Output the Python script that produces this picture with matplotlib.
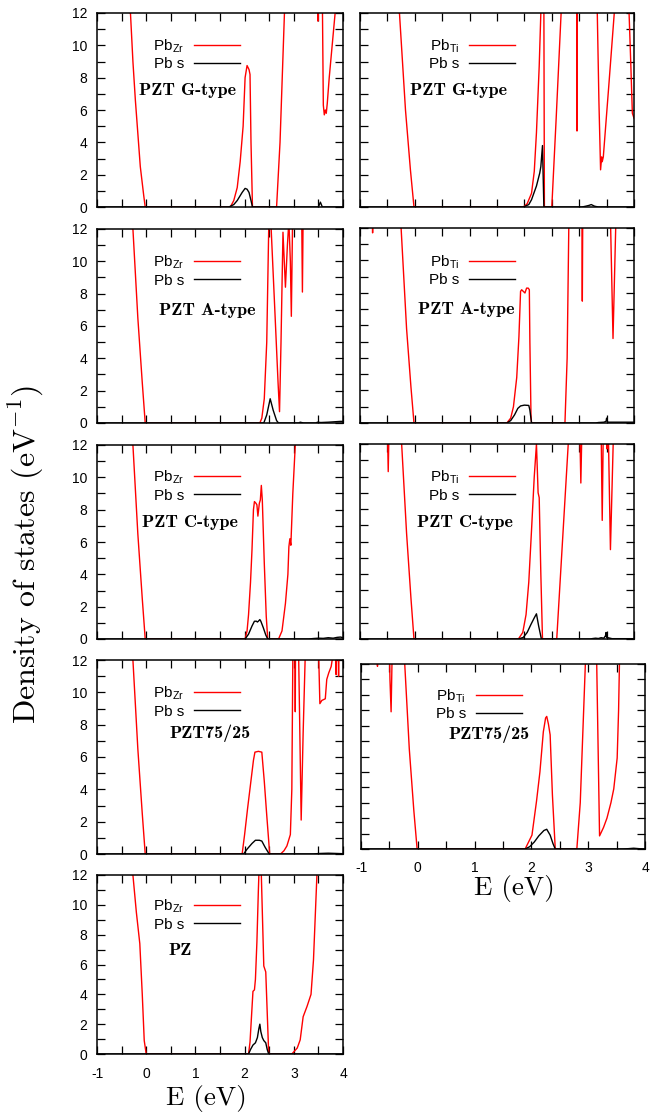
import matplotlib
matplotlib.use('Agg')
import matplotlib.pyplot as plt
from matplotlib.ticker import MultipleLocator, NullFormatter

plt.rcParams['font.family'] = ['Liberation Sans', 'DejaVu Sans']
plt.rcParams['mathtext.fontset'] = 'cm'
plt.rcParams['axes.unicode_minus'] = False

# ---------------- data (E in eV, DOS in 1/eV; values > 12 run off the top) -------------
# PZT G-type, Pb_Zr
zrG_E = [-1.0, -0.32, -0.27, -0.22, -0.12, -0.05, -0.02, 1.71, 1.78, 1.85, 1.91, 1.97, 2.01, 2.05,
         2.09, 2.11, 2.13, 2.16, 2.65, 2.72, 2.81, 2.85, 3.48, 3.49, 3.50, 3.58, 3.60, 3.62, 3.64,
         3.66, 3.68, 3.72, 3.78, 3.84, 3.88, 4.0]
zrG_V = [13, 12, 9.0, 6.6, 2.5, 0.7, 0, 0, 0.4, 1.2, 2.8, 5.0, 8.0, 8.75,
         8.5, 8.2, 4.0, 0, 0, 4.0, 12, 13, 13, 11.5, 13, 13, 6.3, 5.7, 6.0,
         5.8, 6.4, 8.0, 10.0, 12, 13, 13]
szG_E = [-1.0, 1.68, 1.78, 1.85, 1.95, 2.01, 2.05, 2.09, 2.13, 2.16, 3.50, 3.54, 3.58, 4.0]
szG_V = [0, 0, 0.15, 0.4, 0.9, 1.15, 1.1, 0.9, 0.4, 0, 0, 0.3, 0, 0]

# PZT G-type, Pb_Ti
tiG_E = [-1.0, -0.28, -0.17, -0.08, -0.015, 1.98, 2.05, 2.13, 2.18, 2.22, 2.27, 2.30, 2.32, 2.355,
         2.365, 2.50, 2.58, 2.67, 2.70, 2.955, 2.96, 2.965, 3.33, 3.36, 3.39, 3.41, 3.42, 3.44,
         3.54, 3.64, 3.66, 3.90, 3.94, 3.97, 4.0]
tiG_V = [13, 12, 6.0, 2.3, 0, 0, 0.2, 0.85, 2.2, 4.6, 8.7, 12, 13, 13,
         0, 0, 5.5, 12, 13, 13, 4.7, 13, 12, 6.5, 2.3, 3.1, 2.8, 3.1,
         7.5, 12, 13, 13, 9.0, 5.8, 5.5]
stG_E = [-1.0, 1.98, 2.08, 2.13, 2.22, 2.28, 2.30, 2.33, 2.355, 3.05, 3.12, 3.18, 3.22, 3.28, 3.35, 4.0]
stG_V = [0, 0, 0.15, 0.45, 1.3, 2.1, 2.5, 3.8, 0, 0, 0.05, 0.1, 0.15, 0.05, 0, 0]

# PZT A-type, Pb_Zr
zrA_E = [-1.0, -0.27, -0.17, -0.08, -0.02, 2.31, 2.35, 2.40, 2.45, 2.49, 2.51, 2.54, 2.62, 2.68,
         2.71, 2.74, 2.78, 2.83, 2.87, 2.90, 2.93, 2.95, 2.975, 3.0, 3.16, 3.175, 3.19, 4.0]
zrA_V = [13, 12, 6.5, 2.5, 0, 0, 0.3, 1.5, 5.0, 12, 13, 12, 6.6, 2.5,
         0.7, 5.0, 11.8, 8.4, 11.0, 12.5, 10.0, 6.6, 12.5, 13, 13, 8.1, 13, 13]
szA_E = [-1.0, 2.39, 2.45, 2.52, 2.58, 2.65, 2.69, 3.10, 3.13, 3.20, 3.45, 3.48, 3.55, 3.70, 3.85, 3.95, 4.0]
szA_V = [0, 0, 0.5, 1.5, 0.8, 0.15, 0, 0, 0.05, 0, 0, 0.05, 0.03, 0.05, 0.08, 0.1, 0.1]

# PZT A-type, Pb_Ti
tiA_E = [-1.0, -0.775, -0.77, -0.765, -0.25, -0.15, -0.07, -0.015, 1.68, 1.75, 1.80, 1.86, 1.90,
         1.93, 1.95, 1.98, 2.01, 2.04, 2.07, 2.09, 2.10, 2.12, 2.13, 2.74, 2.78, 2.81, 2.83, 3.05,
         3.057, 3.065, 3.574, 3.617, 3.666, 3.69, 4.0]
tiA_V = [13, 13, 11.7, 13, 12, 5.8, 2.2, 0, 0, 0.3, 1.0, 2.8, 5.3,
         8.1, 8.2, 8.1, 8.0, 8.3, 8.3, 8.2, 5.0, 0.5, 0, 0, 4.0, 12, 13, 13,
         7.5, 13, 12, 5.2, 12, 13, 13]
stA_E = [-1.0, 1.68, 1.75, 1.82, 1.88, 1.93, 2.00, 2.08, 2.10, 2.13, 3.30, 3.35, 3.45, 3.49, 3.50,
         3.52, 3.60, 4.0]
stA_V = [0, 0, 0.15, 0.5, 0.9, 1.05, 1.1, 1.08, 0.8, 0, 0, 0.03, 0.05, 0.1, 0.3,
         0.05, 0.05, 0.05]

# PZT C-type, Pb_Zr
zrC_E = [-1.0, -0.27, -0.17, -0.08, -0.02, 2.01, 2.05, 2.08, 2.12, 2.15, 2.18, 2.20, 2.23, 2.25,
         2.27, 2.30, 2.32, 2.34, 2.36, 2.40, 2.44, 2.47, 2.69, 2.76, 2.83, 2.88, 2.90, 2.92, 2.94,
         2.98, 3.03, 3.05, 4.0]
zrC_V = [13, 12, 6.5, 2.5, 0, 0, 0.5, 1.5, 3.5, 5.5, 8.0, 8.5, 8.4, 8.3,
         7.6, 8.4, 8.6, 9.5, 8.6, 4.7, 1.4, 0, 0, 0.5, 2.2, 4.0, 5.7, 6.2, 5.8,
         9.0, 12, 13, 13]
szC_E = [-1.0, 2.01, 2.08, 2.15, 2.20, 2.24, 2.26, 2.28, 2.31, 2.33, 2.38, 2.43, 2.47, 3.30, 3.40,
         3.50, 3.60, 3.70, 3.80, 3.88, 3.95, 4.0]
szC_V = [0, 0, 0.3, 0.8, 1.1, 1.1, 1.05, 1.1, 1.2, 1.1, 0.7, 0.25, 0, 0, 0.03,
         0.05, 0.04, 0.08, 0.05, 0.1, 0.12, 0.08]

# PZT C-type, Pb_Ti
tiC_E = [-1.0, -0.50, -0.485, -0.47, -0.24, -0.15, -0.07, -0.015, 1.89, 1.97, 2.03, 2.08, 2.13,
         2.18, 2.22, 2.25, 2.27, 2.30, 2.33, 2.59, 2.80, 2.82, 3.01, 3.03, 3.05, 3.40, 3.42, 3.44,
         3.50, 3.505, 3.51, 3.53, 3.57, 3.62, 3.64, 4.0]
tiC_V = [13, 13, 10.3, 13, 12, 6.5, 2.5, 0, 0, 0.4, 1.5, 3.5, 6.7,
         10.0, 12, 9.0, 8.7, 4.0, 0, 0, 12, 13, 13, 9.6, 13, 13, 7.3, 13,
         13, 11.7, 13, 13, 5.5, 12, 13, 13]
stC_E = [-1.0, 1.89, 1.98, 2.05, 2.12, 2.18, 2.22, 2.26, 2.31, 3.20, 3.25, 3.30, 3.35, 3.40, 3.45,
         3.48, 3.49, 3.50, 3.60, 4.0]
stC_V = [0, 0, 0.1, 0.4, 0.9, 1.3, 1.55, 0.8, 0, 0, 0.03, 0.05, 0.03, 0.08, 0.05,
         0.2, 0.4, 0.1, 0.02, 0.02]

# PZT75/25, Pb_Zr
zr75_E = [-1.0, -0.27, -0.17, -0.08, -0.02, 1.95, 2.00, 2.06, 2.12, 2.18, 2.21, 2.28, 2.35, 2.40,
          2.45, 2.51, 2.73, 2.80, 2.86, 2.93, 2.96, 2.98, 3.00, 3.025, 3.03, 3.035, 3.10, 3.15,
          3.19, 3.23, 3.25, 3.50, 3.53, 3.57, 3.64, 3.67, 3.71, 3.76, 3.78, 3.80, 3.85, 3.86, 3.87,
          3.90, 3.91, 3.92, 4.0]
zr75_V = [13, 12, 6.5, 2.5, 0, 0, 1.2, 2.8, 4.3, 5.8, 6.3, 6.35, 6.3, 4.5,
          2.4, 0, 0, 0.2, 0.5, 1.2, 4.0, 12, 13, 13, 8.8, 13, 12, 2.1,
          7.5, 12, 13, 13, 9.3, 9.5, 9.6, 10.8, 11.2, 11.6, 12, 13, 13, 11.1, 13,
          13, 11.0, 13, 13]
sz75_E = [-1.0, 1.98, 2.05, 2.15, 2.22, 2.30, 2.35, 2.42, 2.50, 3.40, 3.50, 3.70, 3.90, 4.0]
sz75_V = [0, 0, 0.3, 0.65, 0.85, 0.85, 0.8, 0.4, 0, 0, 0.03, 0.05, 0.03, 0.02]

# PZT75/25, Pb_Ti
ti75_E = [-1.0, -0.715, -0.71, -0.705, -0.50, -0.49, -0.47, -0.45, -0.23, -0.15, -0.07, -0.012,
          1.89, 2.01, 2.09, 2.15, 2.21, 2.25, 2.27, 2.30, 2.33, 2.37, 2.42, 2.80, 2.86, 2.95,
          2.97, 3.13, 3.15, 3.20, 3.27, 3.33, 3.40, 3.45, 3.51, 3.535, 3.55, 3.57, 4.0]
ti75_V = [13, 13, 11.85, 13, 13, 11.0, 8.9, 13, 12, 6.5, 2.5, 0,
          0, 0.9, 3.1, 5.0, 7.6, 8.5, 8.6, 8.1, 7.4, 3.5, 0, 0, 3.0, 12,
          13, 13, 12, 0.85, 1.4, 2.0, 3.0, 3.9, 5.9, 9.0, 12, 13, 13]
st75_E = [-1.0, 1.89, 1.97, 2.05, 2.13, 2.22, 2.27, 2.33, 2.38, 2.42, 3.60, 3.70, 3.80, 3.90, 4.0]
st75_V = [0, 0, 0.15, 0.45, 0.85, 1.2, 1.28, 0.9, 0.35, 0, 0, 0.02, 0.05, 0.02, 0]

# PZ, Pb_Zr
zrPZ_E = [-1.0, -0.27, -0.20, -0.13, -0.08, -0.04, 0.0, 2.08, 2.11, 2.14, 2.17, 2.20, 2.22, 2.25,
          2.28, 2.29, 2.31, 2.33, 2.34, 2.39, 2.43, 2.49, 2.96, 3.07, 3.13, 3.19, 3.27, 3.35, 3.40,
          3.47, 3.49, 4.0]
zrPZ_V = [13, 12, 9.5, 7.4, 4.0, 0.9, 0, 0, 0.8, 2.5, 4.2, 4.3, 5.0, 7.5,
          11.0, 12, 13, 13, 12, 5.9, 5.5, 0, 0, 0.4, 0.95, 2.5, 3.2, 4.0, 6.3,
          12, 13, 13]
szPZ_E = [-1.0, 2.08, 2.12, 2.17, 2.22, 2.26, 2.29, 2.31, 2.33, 2.36, 2.39, 2.43, 2.46, 2.49, 4.0]
szPZ_V = [0, 0, 0.3, 0.6, 0.75, 1.1, 1.7, 2.0, 1.5, 1.1, 0.9, 0.75, 0.3, 0, 0]

site_labels = ['Zr', 'Ti']
titles = ['PZT G-type', 'PZT A-type', 'PZT C-type', 'PZT75/25', 'PZ']
y_ticks = [0, 2, 4, 6, 8, 10, 12]
x_ticks = [-1, 0, 1, 2, 3, 4]

# ---------------- layout ----------------
W, H = 665, 1114
fig = plt.figure(figsize=(W / 100, H / 100), dpi=100)

panels = [
    ((97, 13, 343, 207), zrG_E, zrG_V, szG_E, szG_V, 0, 0, (0.366, 0.60), 0.581, 0.835, True, False),
    ((360, 13, 634, 207), tiG_E, tiG_V, stG_E, stG_V, 1, 0, (0.358, 0.60), 0.566, 0.835, False, False),
    ((97, 229, 343, 423), zrA_E, zrA_V, szA_E, szA_V, 0, 1, (0.447, 0.582), 0.581, 0.831, True, False),
    ((360, 228, 634, 423), tiA_E, tiA_V, stA_E, stA_V, 1, 1, (0.387, 0.58), 0.566, 0.83, False, False),
    ((97, 445, 343, 639), zrC_E, zrC_V, szC_E, szC_V, 0, 2, (0.378, 0.603), 0.581, 0.837, True, False),
    ((360, 444, 634, 639), tiC_E, tiC_V, stC_E, stC_V, 1, 2, (0.383, 0.60), 0.566, 0.832, False, False),
    ((97, 660, 343, 854), zr75_E, zr75_V, sz75_E, sz75_V, 0, 3, (0.46, 0.62), 0.581, 0.831, True, False),
    ((361, 664, 645, 849), ti75_E, ti75_V, st75_E, st75_V, 1, 3, (0.452, 0.62), 0.566, 0.832, False, True),
    ((97, 875, 343, 1054), zrPZ_E, zrPZ_V, szPZ_E, szPZ_V, 0, 4, (0.337, 0.577), 0.581, 0.828, True, True),
]

for (box, rE, rV, sE, sV, site, ti, tpos, lx, ly, yl, xl) in panels:
    x0, y0, x1, y1 = box
    ax = fig.add_axes([x0 / W, 1 - y1 / H, (x1 - x0) / W, (y1 - y0) / H])
    hpx = y1 - y0
    lr, = ax.plot(rE, rV, color='#ff0000', lw=1.0)
    ls, = ax.plot(sE, sV, color='black', lw=1.0)
    ax.set_xlim(-1, 4)
    ax.set_ylim(0, 12)
    ax.xaxis.set_major_locator(MultipleLocator(1))
    ax.xaxis.set_minor_locator(MultipleLocator(0.5))
    ax.yaxis.set_major_locator(MultipleLocator(2))
    ax.yaxis.set_minor_locator(MultipleLocator(1))
    ax.tick_params(which='both', direction='in', top=True, right=True, length=6, width=0.9,
                   labelsize=10, colors='black')
    ax.tick_params(axis='y', pad=7)
    ax.tick_params(axis='x', pad=9)
    for sp in ax.spines.values():
        sp.set_linewidth(1.1)
    if yl:
        ax.set_yticks(y_ticks)
        ax.set_yticklabels([str(v) for v in y_ticks])
    else:
        ax.yaxis.set_major_formatter(NullFormatter())
    if xl:
        ax.set_xticks(x_ticks)
        ax.set_xticklabels([str(v) for v in x_ticks])
    else:
        ax.xaxis.set_major_formatter(NullFormatter())
    ax.legend([lr, ls], [r'Pb$_{\mathregular{%s}}$' % site_labels[site], 'Pb s'],
              loc='upper right', bbox_to_anchor=(lx, ly + 8 / hpx),
              frameon=False, markerfirst=False, handlelength=3.0, handletextpad=0.65,
              borderpad=0, borderaxespad=0, labelspacing=0.15,
              prop={'family': 'Liberation Sans', 'size': 11})
    ax.text(tpos[0], tpos[1], titles[ti], transform=ax.transAxes, ha='center', va='center',
            fontsize=13, family=['cmb10', 'DejaVu Serif'])

fig.text(26 / W, 1 - 555 / H, r'Density of states (eV$^{-1}$)', rotation=90, ha='center',
         va='center', fontsize=23, family=['cmr10', 'DejaVu Serif'])
fig.text(514 / W, 1 - 889 / H, 'E (eV)', ha='center', va='center', fontsize=19.5,
         family=['cmr10', 'DejaVu Serif'])
fig.text(206 / W, 1 - 1098 / H, 'E (eV)', ha='center', va='center', fontsize=19.5,
         family=['cmr10', 'DejaVu Serif'])

fig.savefig('out.png', dpi=100)
